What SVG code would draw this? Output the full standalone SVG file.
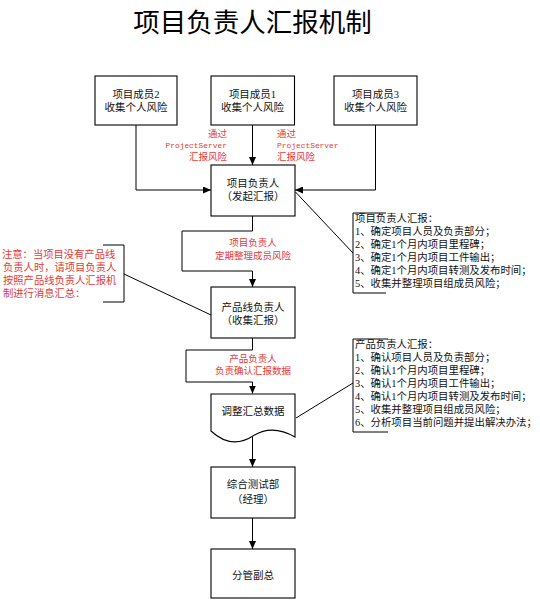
<svg xmlns="http://www.w3.org/2000/svg" width="540" height="600" viewBox="0 0 540 600">
<defs>
<marker id="arr" markerWidth="8" markerHeight="7" refX="8" refY="3.5" orient="auto" markerUnits="userSpaceOnUse">
<path d="M0,0 L8,3.5 L0,7 z" fill="#000"/>
</marker>
<style>
.box{fill:#fff;stroke:#000;stroke-width:1.1}
.ln{fill:none;stroke:#000;stroke-width:1}
.t{font-family:"Liberation Serif","Noto Sans CJK SC",serif;font-size:10.5px;fill:#111;text-anchor:middle}
.r{font-family:"Liberation Serif","Noto Sans CJK SC",serif;font-size:9.5px;fill:#e53935}
.rm{font-family:"Liberation Mono",monospace;font-size:7.9px;fill:#e53935}
.n{font-family:"Liberation Serif","Noto Sans CJK SC",serif;font-size:10.4px;fill:#111}
.nr{font-family:"Liberation Serif","Noto Sans CJK SC",serif;font-size:10.3px;fill:#e53935}
</style>
</defs>
<rect width="540" height="600" fill="#fff"/>
<text x="252.5" y="32" style="font-family:'Noto Sans CJK SC',sans-serif;font-size:26.5px;fill:#000;text-anchor:middle">项目负责人汇报机制</text>

<g id="connectors">
<path class="ln" d="M252.5,125 V165" marker-end="url(#arr)"/>
<path class="ln" d="M136,125 V190 H211" marker-end="url(#arr)"/>
<path class="ln" d="M375.5,125 V190 H295" marker-end="url(#arr)"/>
<path class="ln" d="M252.5,216 V231 H182 V271 H252.5 V287" marker-end="url(#arr)"/>
<path class="ln" d="M252.5,338 V350 H186 V382 H252.5 V393.5" marker-end="url(#arr)"/>
<path class="ln" d="M252.5,437 V467" marker-end="url(#arr)"/>
<path class="ln" d="M252.5,518 V549" marker-end="url(#arr)"/>
<path class="ln" d="M295.5,192 L353,253"/>
<path class="ln" d="M296,418 L353,383"/>
<path class="ln" d="M124,274 L211,315"/>
<g id="label-left">
<text class="r" x="227" y="137" text-anchor="end">通过</text>
<text class="rm" x="227" y="148" text-anchor="end">ProjectServer</text>
<text class="r" x="227" y="160" text-anchor="end">汇报风险</text>
</g>
<g id="label-right">
<text class="r" x="277" y="137">通过</text>
<text class="rm" x="277" y="148">ProjectServer</text>
<text class="r" x="277" y="160">汇报风险</text>
</g>
<g id="label-loop1">
<text class="r" x="253" y="245.5" text-anchor="middle">项目负责人</text>
<text class="r" x="253" y="258.5" text-anchor="middle">定期整理成员风险</text>
</g>
<g id="label-loop2">
<text class="r" x="253" y="362" text-anchor="middle">产品负责人</text>
<text class="r" x="253" y="374" text-anchor="middle">负责确认汇报数据</text>
</g>
</g>

<g id="member2">
<rect class="box" x="95" y="76" width="82" height="49"/>
<text class="t" x="136" y="98">项目成员2</text>
<text class="t" x="136" y="110.5">收集个人风险</text>
</g>
<g id="member1">
<rect class="box" x="211" y="76" width="83.5" height="49"/>
<text class="t" x="252.5" y="98">项目成员1</text>
<text class="t" x="252.5" y="110.5">收集个人风险</text>
</g>
<g id="member3">
<rect class="box" x="334" y="76" width="83" height="49"/>
<text class="t" x="375.5" y="98">项目成员3</text>
<text class="t" x="375.5" y="110.5">收集个人风险</text>
</g>
<g id="project-leader">
<rect class="box" x="211" y="165" width="84" height="51"/>
<text class="t" x="253" y="187">项目负责人</text>
<text class="t" x="253" y="199.5">（发起汇报）</text>
</g>
<g id="product-leader">
<rect class="box" x="211" y="287" width="84" height="51"/>
<text class="t" x="253" y="311">产品线负责人</text>
<text class="t" x="253" y="323.5">（收集汇报）</text>
</g>
<g id="adjust-data">
<path class="box" d="M211,394 H295 V437 C281,429 267,427 253,436 C239,445 225,444 211,431 Z"/>
<text class="t" x="253" y="414.5">调整汇总数据</text>
</g>
<g id="test-dept">
<rect class="box" x="211" y="467" width="84" height="51"/>
<text class="t" x="253" y="488">综合测试部</text>
<text class="t" x="253" y="503">（经理）</text>
</g>
<g id="vp">
<rect class="box" x="211" y="549" width="84" height="49"/>
<text class="t" x="253" y="579">分管副总</text>
</g>

<g id="note-project-leader">
<path class="ln" d="M386,213 H353 V293 H386"/>
<text class="n" x="355" y="222">项目负责人汇报：</text>
<text class="n" x="355" y="235">1、确定项目人员及负责部分；</text>
<text class="n" x="355" y="248">2、确定1个月内项目里程碑；</text>
<text class="n" x="355" y="261">3、确定1个月内项目工件输出；</text>
<text class="n" x="355" y="274">4、确定1个月内项目转测及发布时间；</text>
<text class="n" x="355" y="287">5、收集并整理项目组成员风险；</text>
</g>
<g id="note-product-leader">
<path class="ln" d="M388,339 H353 V432 H388"/>
<text class="n" x="355" y="348">产品负责人汇报：</text>
<text class="n" x="355" y="361">1、确认项目人员及负责部分；</text>
<text class="n" x="355" y="374">2、确认1个月内项目里程碑；</text>
<text class="n" x="355" y="387">3、确认1个月内项目工件输出；</text>
<text class="n" x="355" y="400">4、确认1个月内项目转测及发布时间；</text>
<text class="n" x="355" y="413">5、收集并整理项目组成员风险；</text>
<text class="n" x="355" y="426">6、分析项目当前问题并提出解决办法；</text>
</g>
<g id="note-warning">
<path class="ln" d="M103,245 H124 V302 H103"/>
<text class="nr" x="2" y="258">注意：当项目没有产品线</text>
<text class="nr" x="3" y="271">负责人时，请项目负责人</text>
<text class="nr" x="3" y="284">按照产品线负责人汇报机</text>
<text class="nr" x="3" y="297">制进行消息汇总：</text>
</g>
</svg>
